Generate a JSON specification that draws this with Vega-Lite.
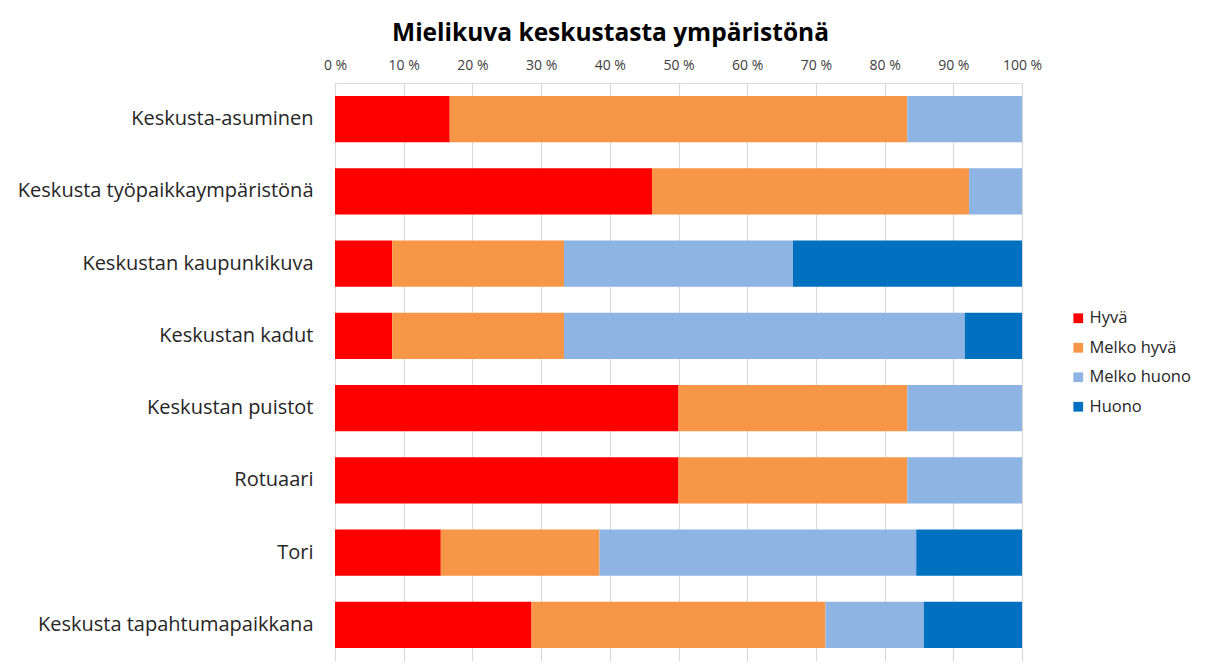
{
  "$schema": "https://vega.github.io/schema/vega-lite/v6.json",
  "width": 687,
  "height": 578,
  "autosize": "none",
  "padding": {"left": 335, "top": 83, "right": 188, "bottom": 10},
  "background": "white",
  "title": {
    "text": "Mielikuva keskustasta ympäristönä",
    "font": "Open Sans",
    "fontSize": 24.5,
    "fontWeight": "bold",
    "color": "#000000",
    "anchor": "middle",
    "dx": -68,
    "offset": 12
  },
  "data": {
    "values": [
      {"kohde": "Keskusta-asuminen", "luokka": "Hyvä", "osuus": 16.7},
      {"kohde": "Keskusta-asuminen", "luokka": "Melko hyvä", "osuus": 66.6},
      {"kohde": "Keskusta-asuminen", "luokka": "Melko huono", "osuus": 16.7},
      {"kohde": "Keskusta-asuminen", "luokka": "Huono", "osuus": 0},
      {"kohde": "Keskusta työpaikkaympäristönä", "luokka": "Hyvä", "osuus": 46.15},
      {"kohde": "Keskusta työpaikkaympäristönä", "luokka": "Melko hyvä", "osuus": 46.15},
      {"kohde": "Keskusta työpaikkaympäristönä", "luokka": "Melko huono", "osuus": 7.7},
      {"kohde": "Keskusta työpaikkaympäristönä", "luokka": "Huono", "osuus": 0},
      {"kohde": "Keskustan kaupunkikuva", "luokka": "Hyvä", "osuus": 8.33},
      {"kohde": "Keskustan kaupunkikuva", "luokka": "Melko hyvä", "osuus": 25},
      {"kohde": "Keskustan kaupunkikuva", "luokka": "Melko huono", "osuus": 33.33},
      {"kohde": "Keskustan kaupunkikuva", "luokka": "Huono", "osuus": 33.33},
      {"kohde": "Keskustan kadut", "luokka": "Hyvä", "osuus": 8.33},
      {"kohde": "Keskustan kadut", "luokka": "Melko hyvä", "osuus": 25},
      {"kohde": "Keskustan kadut", "luokka": "Melko huono", "osuus": 58.33},
      {"kohde": "Keskustan kadut", "luokka": "Huono", "osuus": 8.33},
      {"kohde": "Keskustan puistot", "luokka": "Hyvä", "osuus": 50},
      {"kohde": "Keskustan puistot", "luokka": "Melko hyvä", "osuus": 33.3},
      {"kohde": "Keskustan puistot", "luokka": "Melko huono", "osuus": 16.7},
      {"kohde": "Keskustan puistot", "luokka": "Huono", "osuus": 0},
      {"kohde": "Rotuaari", "luokka": "Hyvä", "osuus": 50},
      {"kohde": "Rotuaari", "luokka": "Melko hyvä", "osuus": 33.3},
      {"kohde": "Rotuaari", "luokka": "Melko huono", "osuus": 16.7},
      {"kohde": "Rotuaari", "luokka": "Huono", "osuus": 0},
      {"kohde": "Tori", "luokka": "Hyvä", "osuus": 15.4},
      {"kohde": "Tori", "luokka": "Melko hyvä", "osuus": 23.1},
      {"kohde": "Tori", "luokka": "Melko huono", "osuus": 46.1},
      {"kohde": "Tori", "luokka": "Huono", "osuus": 15.4},
      {"kohde": "Keskusta tapahtumapaikkana", "luokka": "Hyvä", "osuus": 28.6},
      {"kohde": "Keskusta tapahtumapaikkana", "luokka": "Melko hyvä", "osuus": 42.8},
      {"kohde": "Keskusta tapahtumapaikkana", "luokka": "Melko huono", "osuus": 14.3},
      {"kohde": "Keskusta tapahtumapaikkana", "luokka": "Huono", "osuus": 14.3}
    ]
  },
  "transform": [
    {"calculate": "indexof(['Hyvä','Melko hyvä','Melko huono','Huono'], datum.luokka)", "as": "jarjestys"}
  ],
  "mark": {"type": "bar"},
  "encoding": {
    "y": {
      "field": "kohde",
      "type": "nominal",
      "sort": null,
      "title": null,
      "scale": {"paddingInner": 0.36, "paddingOuter": 0.18},
      "axis": {
        "domain": false,
        "ticks": false,
        "labelFont": "Open Sans",
        "labelFontSize": 20,
        "labelColor": "#262626",
        "labelPadding": 22,
        "labelLimit": 400
      }
    },
    "x": {
      "field": "osuus",
      "type": "quantitative",
      "stack": "normalize",
      "title": null,
      "scale": {"domain": [0, 1]},
      "axis": {
        "orient": "top",
        "values": [0, 0.1, 0.2, 0.3, 0.4, 0.5, 0.6, 0.7, 0.8, 0.9, 1],
        "labelExpr": "round(datum.value * 100) + ' %'",
        "labelFont": "Open Sans",
        "labelFontSize": 14,
        "labelColor": "#404040",
        "labelPadding": 11,
        "labelFlush": false,
        "ticks": false,
        "domain": true,
        "domainColor": "#D9D9D9",
        "grid": true,
        "gridColor": "#D9D9D9",
        "gridWidth": 1.2
      }
    },
    "color": {
      "field": "luokka",
      "type": "nominal",
      "title": null,
      "scale": {
        "domain": ["Hyvä", "Melko hyvä", "Melko huono", "Huono"],
        "range": ["#FF0000", "#F79646", "#8EB4E3", "#0070C0"]
      },
      "legend": {
        "orient": "none",
        "legendX": 735,
        "legendY": 227,
        "symbolType": "square",
        "symbolSize": 95,
        "symbolStrokeWidth": 0,
        "labelFont": "Open Sans",
        "labelFontSize": 16.5,
        "labelColor": "#262626",
        "rowPadding": 12.5,
        "labelOffset": 3
      }
    },
    "order": {"field": "jarjestys", "type": "quantitative"}
  },
  "config": {
    "view": {"stroke": null}
  }
}
